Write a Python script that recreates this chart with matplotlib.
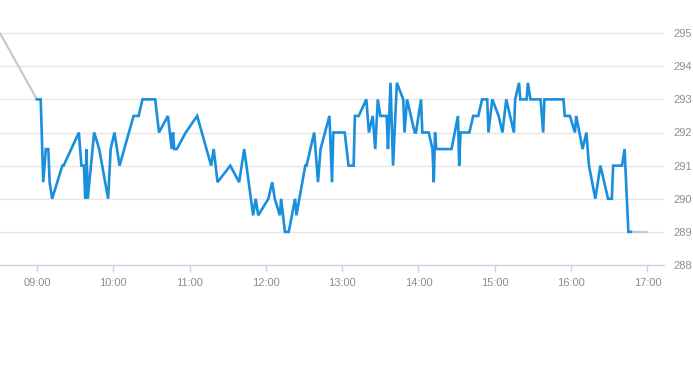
import pandas as pd
import matplotlib
matplotlib.use("Agg")
import matplotlib.pyplot as plt
import matplotlib.dates as mdates

# intraday prices
times = ["09:00", "09:03", "09:05", "09:07", "09:09", "09:10", "09:12", "09:20", "09:21",
         "09:33", "09:35", "09:37", "09:38", "09:39", "09:40", "09:45", "09:49", "09:56",
         "09:58", "10:01", "10:05", "10:16", "10:20", "10:23", "10:33", "10:36", "10:43",
         "10:46", "10:47", "10:48", "10:50", "10:57", "11:06", "11:17", "11:19", "11:22",
         "11:32", "11:39", "11:43", "11:50", "11:52", "11:54", "12:02", "12:05", "12:07",
         "12:11", "12:12", "12:15", "12:18", "12:23", "12:24", "12:31", "12:32", "12:38",
         "12:41", "12:43", "12:50", "12:52", "12:53", "13:02", "13:05", "13:09", "13:10",
         "13:13", "13:19", "13:21", "13:24", "13:26", "13:28", "13:30", "13:35", "13:36",
         "13:38", "13:40", "13:43", "13:48", "13:49", "13:51", "13:57", "13:58", "14:02",
         "14:03", "14:08", "14:11", "14:12", "14:13", "14:14", "14:26", "14:31", "14:32",
         "14:33", "14:40", "14:43", "14:47", "14:50", "14:54", "14:55", "14:58", "15:03",
         "15:06", "15:09", "15:12", "15:15", "15:16", "15:19", "15:20", "15:25", "15:26",
         "15:28", "15:36", "15:38", "15:39", "15:54", "15:55", "15:59", "16:03", "16:04",
         "16:09", "16:12", "16:14", "16:19", "16:23", "16:29", "16:32", "16:33", "16:40",
         "16:42", "16:45", "16:47"]
prices = [293, 293, 290.5, 291.5, 291.5, 290.5, 290, 291, 291,
          292, 291, 291, 290, 291.5, 290, 292, 291.5, 290,
          291.5, 292, 291, 292.5, 292.5, 293, 293, 292, 292.5,
          291.5, 292, 291.5, 291.5, 292, 292.5, 291, 291.5, 290.5,
          291, 290.5, 291.5, 289.5, 290, 289.5, 290, 290.5, 290,
          289.5, 290, 289, 289, 290, 289.5, 291, 291, 292,
          290.5, 291.5, 292.5, 290.5, 292, 292, 291, 291, 292.5,
          292.5, 293, 292, 292.5, 291.5, 293, 292.5, 292.5, 291.5,
          293.5, 291, 293.5, 293, 292, 293, 292, 292, 293,
          292, 292, 291.5, 290.5, 292, 291.5, 291.5, 292.5, 291,
          292, 292, 292.5, 292.5, 293, 293, 292, 293, 292.5,
          292, 293, 292.5, 292, 293, 293.5, 293, 293, 293.5,
          293, 293, 292, 293, 293, 292.5, 292.5, 292, 292.5,
          291.5, 292, 291, 290, 291, 290, 290, 291, 291,
          291.5, 289, 289]

# grey connectors before the open and after the last trade
lead_times = ["08:31", "09:00"]
lead_prices = [295, 293]
tail_times = ["16:47", "17:00"]
tail_prices = [289, 289]

y_ticks = [288, 289, 290, 291, 292, 293, 294, 295]
x_ticks = ["09:00", "10:00", "11:00", "12:00", "13:00", "14:00", "15:00", "16:00", "17:00"]


def to_dt(lst):
    return pd.to_datetime(["2024-01-02 " + t for t in lst])


plt.rcParams["font.family"] = ["Liberation Sans", "DejaVu Sans"]

fig = plt.figure(figsize=(6.93, 3.65), dpi=100)
ax = fig.add_axes([0, 1 - 265 / 365, 664 / 693, 265 / 365])

ax.plot(to_dt(lead_times), lead_prices, color="#c0c8d0", lw=1.5, solid_capstyle="round")
ax.plot(to_dt(tail_times), tail_prices, color="#c0c8d0", lw=1.5, solid_capstyle="round")
ax.plot(to_dt(times), prices, color="#1a8fdd", lw=1.9, solid_joinstyle="miter")

ax.set_xlim(pd.Timestamp("2024-01-02 08:31"), pd.Timestamp("2024-01-02 17:13"))
ax.set_ylim(288, 296)

ax.set_yticks(y_ticks)
ax.set_yticklabels([str(v) for v in y_ticks])
ax.yaxis.tick_right()
ax.tick_params(axis="y", length=0, pad=7, labelsize=8, labelcolor="#858e99")

ax.set_xticks(to_dt(x_ticks))
ax.xaxis.set_major_formatter(mdates.DateFormatter("%H:%M"))
ax.tick_params(axis="x", length=5, width=1, color="#ccd6eb", pad=4,
               labelsize=8, labelcolor="#858e99")

ax.grid(axis="y", color="#e6e6e6", lw=1)
ax.set_axisbelow(True)
for side in ["top", "left", "right"]:
    ax.spines[side].set_visible(False)
ax.spines["bottom"].set_color("#ccd6eb")
ax.spines["bottom"].set_linewidth(1)

fig.savefig("out.png", dpi=100)
